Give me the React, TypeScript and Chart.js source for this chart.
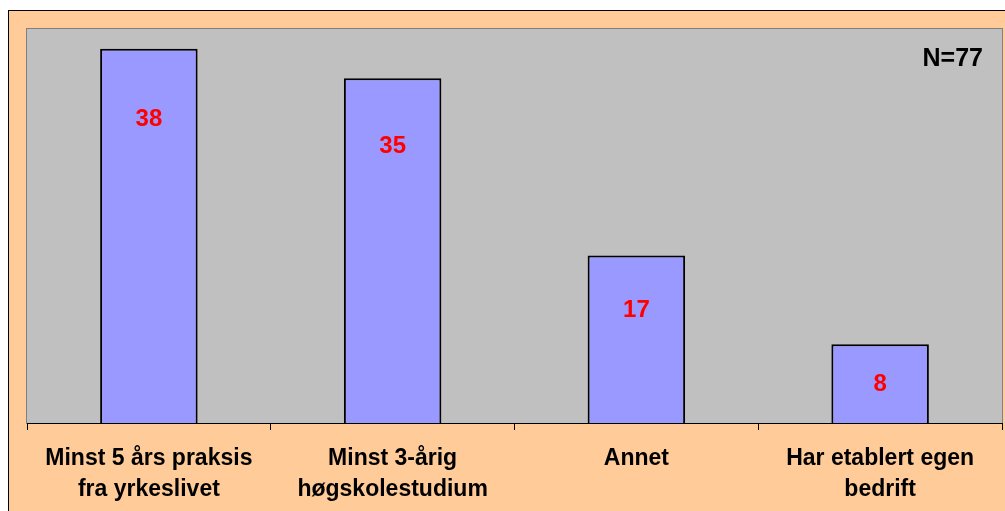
import React, { useEffect, useRef } from "react";
import { Chart, registerables } from "chart.js";

Chart.register(...registerables);

const categories: (string | string[])[] = [
  ["Minst 5 års praksis", "fra yrkeslivet"],
  ["Minst 3-årig", "høgskolestudium"],
  "Annet",
  ["Har etablert egen", "bedrift"],
];
const values: number[] = [38, 35, 17, 8];
const sampleNote = "N=77";
const yMin = 0;
const yMax = 40;

const FONT = "'Liberation Sans', Arial, sans-serif";

const framePlugin = {
  id: "frame",
  beforeDraw(chart: any) {
    const { ctx, chartArea, width, height } = chart;
    ctx.save();
    ctx.fillStyle = "#ffffff";
    ctx.fillRect(0, 0, width, height);
    ctx.fillStyle = "#FFCC99";
    ctx.fillRect(8.5, 10.5, width, height);
    ctx.strokeStyle = "#000000";
    ctx.lineWidth = 1;
    ctx.strokeRect(8.5, 10.5, width + 10, height + 10);
    ctx.fillStyle = "#C0C0C0";
    ctx.fillRect(chartArea.left, chartArea.top, chartArea.right - chartArea.left, chartArea.bottom - chartArea.top);
    ctx.strokeStyle = "#808080";
    ctx.strokeRect(chartArea.left - 0.5, chartArea.top - 0.5, chartArea.right - chartArea.left + 1, chartArea.bottom - chartArea.top + 1);
    ctx.restore();
  },
  afterDatasetsDraw(chart: any) {
    const { ctx, chartArea } = chart;
    const meta = chart.getDatasetMeta(0);
    ctx.save();
    ctx.fillStyle = "#FF0000";
    ctx.font = `bold 24px ${FONT}`;
    ctx.textAlign = "center";
    ctx.textBaseline = "middle";
    meta.data.forEach((bar: any, i: number) => {
      const h = bar.base - bar.y;
      const y = bar.y + Math.min(h / 2, 40 + 0.08 * h);
      ctx.fillText(String(values[i]), bar.x, y + 1);
    });
    ctx.fillStyle = "#000000";
    ctx.font = `bold 25px ${FONT}`;
    ctx.textAlign = "right";
    ctx.fillText(sampleNote, chartArea.right - 19, 59);
    ctx.restore();
  },
};

export default function App() {
  const ref = useRef<HTMLCanvasElement | null>(null);
  useEffect(() => {
    if (!ref.current) return;
    const chart = new Chart(ref.current, {
      type: "bar",
      data: {
        labels: categories,
        datasets: [
          {
            data: values,
            backgroundColor: "#9999FF",
            borderColor: "#000000",
            borderWidth: 2,
            categoryPercentage: 1,
            barPercentage: 0.4,
          },
        ],
      },
      options: {
        animation: false,
        responsive: false,
        devicePixelRatio: 1,
        layout: { padding: { left: 27, right: 3, top: 29, bottom: 0 } },
        plugins: { legend: { display: false }, tooltip: { enabled: false } },
        scales: {
          x: {
            offset: true,
            grid: {
              offset: true,
              drawOnChartArea: false,
              drawTicks: true,
              tickLength: 7,
              color: "#000000",
            },
            border: { display: true, color: "#000000" },
            ticks: {
              color: "#000000",
              padding: 13,
              maxRotation: 0,
              autoSkip: false,
              font: { family: FONT, size: 23, weight: "bold", lineHeight: 1.36 },
            },
            afterFit(scale: any) {
              scale.height = 88;
            },
          },
          y: { display: false, min: yMin, max: yMax },
        },
      },
      plugins: [framePlugin],
    });
    return () => chart.destroy();
  }, []);
  return (
    <div style={{ position: "fixed", left: 0, top: 0, width: 1005, height: 511 }}>
      <canvas ref={ref} width={1005} height={511} style={{ width: 1005, height: 511, display: "block" }} />
    </div>
  );
}
